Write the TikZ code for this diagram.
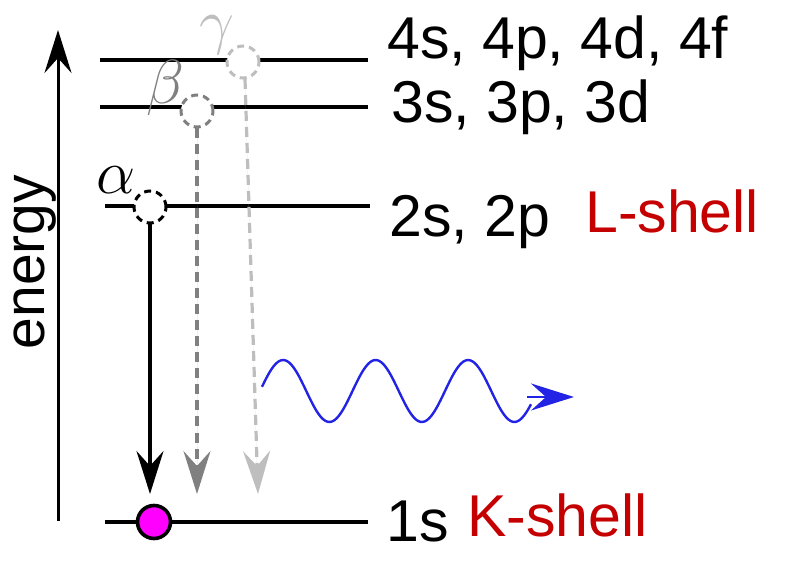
\documentclass[tikz,border=0pt]{standalone}
\usepackage{fontspec}
\setmainfont{Liberation Sans}
\usetikzlibrary{positioning,arrows.meta}

\definecolor{shellred}{RGB}{196,0,0}
\definecolor{photonblue}{RGB}{35,35,230}
\definecolor{betagray}{RGB}{128,128,128}
\definecolor{gammagray}{RGB}{190,190,190}
\definecolor{electron}{RGB}{255,0,255}

\tikzset{
    level/.style={line width=3.6pt},
    hole/.style={circle, draw, dashed, dash pattern=on 7pt off 5pt, line width=3pt, minimum size=32pt, inner sep=0pt},
    orbital/.style={anchor=base west, inner sep=0pt, font=\fontsize{59}{60}\selectfont},
    greek/.style={inner sep=0pt, scale=3, font=\fontsize{20}{24}\selectfont},
    transition/.style={line width=3.2pt, -{Stealth[length=43pt, width=27pt, inset=15pt]}},
}

\begin{document}
\begin{tikzpicture}[x=1pt, y=-1pt]
    \useasboundingbox (0,0) rectangle (785,561);

    % energy axis
    \coordinate (axis0) at (58,521);
    \coordinate (axis1) at (58,30);
    \draw[line width=3pt, -{Stealth[length=43pt, width=27pt, inset=15pt]}] (axis0) -- (axis1);
    \node[rotate=90, inner sep=0pt, font=\fontsize{57}{60}\selectfont, anchor=base] (energy) at (45,262) {energy};

    % levels
    \coordinate (n4a) at (100,60);  \coordinate (n4b) at (368,60);
    \coordinate (n3a) at (100,107); \coordinate (n3b) at (368,107);
    \coordinate (n2a) at (105,206); \coordinate (n2b) at (370,206);
    \coordinate (n1a) at (105,522); \coordinate (n1b) at (368,522);
    \draw[level] (n4a) -- (n4b);
    \draw[level] (n3a) -- (n3b);
    \draw[level] (n2a) -- (n2b);
    \draw[level] (n1a) -- (n1b);

    % orbital labels
    \node[orbital] (o4) at (387,59) {4s, 4p, 4d, 4f};
    \node[orbital] (o3) at (391,123) {3s, 3p, 3d};
    \node[orbital] (o2) at (389,237) {2s, 2p};
    \node[orbital] (o1) at (386,541) {1s};
    \node[orbital, text=shellred] (lshell) at (585,233) {L-shell};
    \node[orbital, text=shellred] (kshell) at (467,536) {K-shell};

    % holes
    \node[hole, fill=white] (alpha) at (150,207) {};
    \node[hole, draw=betagray, fill=white] (beta) at (197,111) {};
    \node[hole, draw=gammagray, fill=white] (gamma) at (243,62) {};
    \node[greek] (alab) at (116,180) {$\alpha$};
    \node[greek, text=betagray] (blab) at (165,88) {$\beta$};
    \node[greek, text=gammagray] (glab) at (217,35) {$\gamma$};

    % electron in 1s
    \node[circle, draw, line width=3.6pt, fill=electron, minimum size=33pt, inner sep=0pt] (elec) at (154,522) {};

    % transitions
    \coordinate (ta) at (150,494);
    \coordinate (tb) at (197,494);
    \coordinate (tg) at (258,494);
    \draw[transition] (alpha.south) -- (ta);
    \draw[transition, draw=betagray, fill=betagray, dashed, dash pattern=on 10pt off 6pt] (beta.south) -- (tb);
    \draw[transition, draw=gammagray, fill=gammagray, dashed, dash pattern=on 10pt off 6pt] (245,79) -- (tg);

    % emitted photon
    \coordinate (w2) at (574,397);
    \draw[photonblue, line width=2.4pt, smooth, samples=120, domain=262:531]
        plot (\x, {391-31*sin(3.8919*(\x-260))});
    \draw[photonblue, line width=2.8pt, -{Stealth[length=43pt, width=27pt, inset=15pt]}] (527,397) -- (w2);
\end{tikzpicture}
\end{document}
